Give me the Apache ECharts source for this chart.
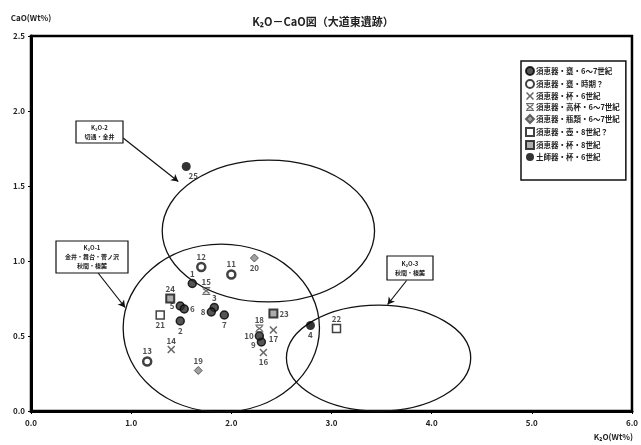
<!DOCTYPE html>
<html>
<head>
<meta charset="utf-8">
<script src="https://cdn.jsdelivr.net/npm/echarts@6/dist/echarts.min.js"></script>
<style>
  html, body { margin: 0; padding: 0; background: #fff; }
  #chart { width: 641px; height: 445px; }
</style>
</head>
<body>
<div id="chart"></div>
<script>
// 凡例の分類
const categories = [
  '須恵器・甕・6～7世紀',
  '須恵器・甕・時期？',
  '須恵器・杯・6世紀',
  '須恵器・高杯・6～7世紀',
  '須恵器・瓶類・6～7世紀',
  '須恵器・壺・8世紀？',
  '須恵器・杯・8世紀',
  '土師器・杯・6世紀'
]
// [K2O, CaO, 番号]
const jar67 = [[1.61, 0.85, 1], [1.49, 0.60, 2], [1.83, 0.69, 3], [1.49, 0.70, 5], [1.53, 0.68, 6], [1.93, 0.64, 7], [1.80, 0.66, 8], [2.30, 0.46, 9], [2.28, 0.50, 10]]
const jarUnknown = [[2.00, 0.91, 11], [1.70, 0.96, 12], [1.16, 0.33, 13]]
const cup6 = [[1.40, 0.41, 14], [2.32, 0.39, 16], [2.42, 0.54, 17]]
const stemCup = [[1.75, 0.80, 15], [2.28, 0.55, 18]]
const bottle = [[1.67, 0.27, 19], [2.23, 1.02, 20]]
const pot8 = [[1.29, 0.64, 21], [3.05, 0.55, 22]]
const cup8 = [[2.42, 0.65, 23], [1.39, 0.75, 24]]
const hajiCup = [[2.79, 0.57, 4], [1.55, 1.63, 25]]
// 産地の範囲 [中心K2O, 中心CaO, 半径K2O, 半径CaO]
const areas = [[1.90, 0.553, 0.98, 0.56], [2.37, 1.20, 1.06, 0.473], [3.47, 0.353, 0.92, 0.353]]
const xTicks = [0, 1, 2, 3, 4, 5, 6]
const yTicks = [0, 0.5, 1, 1.5, 2, 2.5]

// 番号ラベルの位置
const labelPos = { 1: 'top', 2: 'bottom', 3: 'top', 4: 'bottom', 5: 'left', 6: 'right', 7: 'bottom', 8: 'left', 9: 'left', 10: 'left', 11: 'top', 12: 'top', 13: 'top', 14: 'top', 15: 'top', 16: 'bottom', 17: 'bottom', 18: 'top', 19: 'top', 20: 'bottom', 21: 'bottom', 22: 'top', 23: 'right', 24: 'top', 25: 'bottom' }
const labelOffset = { 25: [7, 0], 9: [0, 3] }

const FONT = '"Noto Sans CJK JP", "Noto Sans", sans-serif'
const X_PATH = 'path://M1.4,0L5,3.6L8.6,0L10,1.4L6.4,5L10,8.6L8.6,10L5,6.4L1.4,10L0,8.6L3.6,5L0,1.4Z'
const X_BAR_PATH = 'path://M0,0H10V1.6H0Z M0,8.4H10V10H0Z M1.6,1.6L5,4L8.4,1.6L9.4,2.8L6.2,5L9.4,7.2L8.4,8.4L5,6L1.6,8.4L0.6,7.2L3.8,5L0.6,2.8Z'

function toItems (list) {
  return list.map(function (d) {
    return {
      value: [d[0], d[1]],
      name: String(d[2]),
      label: { position: labelPos[d[2]], offset: labelOffset[d[2]] || [0, 0] }
    }
  })
}

function pointSeries (name, list, symbol, size, itemStyle) {
  return {
    name: name,
    type: 'scatter',
    data: toItems(list),
    symbol: symbol,
    symbolSize: size,
    itemStyle: itemStyle,
    label: {
      show: true,
      formatter: '{b}',
      distance: 1,
      fontSize: 8,
      fontWeight: 'bold',
      fontFamily: FONT,
      color: '#222'
    },
    z: 5
  }
}

const myChart = echarts.init(document.getElementById('chart'))
const option = {
  animation: false,
  backgroundColor: '#fff',
  title: {
    text: 'K₂O－CaO図（大道東遺跡）',
    left: 318,
    top: 11,
    textAlign: 'center',
    textStyle: { fontSize: 11, fontWeight: 'bold', fontFamily: FONT, color: '#222' }
  },
  grid: {
    left: 31,
    right: 9,
    top: 36,
    bottom: 34,
    show: true,
    borderColor: '#000',
    borderWidth: 2.5
  },
  legend: {
    data: categories,
    orient: 'vertical',
    left: 521,
    top: 61,
    width: 107,
    itemWidth: 8,
    itemHeight: 8,
    itemGap: 3,
    padding: [5, 6, 19, 4],
    borderColor: '#111',
    borderWidth: 1.5,
    backgroundColor: '#fff',
    textStyle: { fontSize: 7.5, fontWeight: 'bold', fontFamily: FONT, color: '#222', padding: [0, 0, 0, -3] }
  },
  xAxis: {
    type: 'value',
    min: xTicks[0],
    max: xTicks[xTicks.length - 1],
    interval: 1,
    splitLine: { show: false },
    axisLine: { lineStyle: { color: '#000', width: 3 } },
    axisTick: { show: true, length: 3, lineStyle: { color: '#000', width: 1 } },
    axisLabel: {
      margin: 8,
      fontSize: 8,
      fontWeight: 'bold',
      fontFamily: FONT,
      color: '#222',
      formatter: function (v) { return v.toFixed(1) }
    }
  },
  yAxis: {
    type: 'value',
    min: yTicks[0],
    max: yTicks[yTicks.length - 1],
    interval: 0.5,
    name: 'CaO(Wt%)',
    nameLocation: 'end',
    nameGap: 14,
    nameTextStyle: { fontSize: 8, fontWeight: 'bold', fontFamily: FONT, color: '#222', align: 'center' },
    splitLine: { show: false },
    axisLine: { lineStyle: { color: '#000', width: 3 } },
    axisTick: { show: true, length: 3, lineStyle: { color: '#000', width: 1 } },
    axisLabel: {
      margin: 6,
      fontSize: 8,
      fontWeight: 'bold',
      fontFamily: FONT,
      color: '#222',
      formatter: function (v) { return v.toFixed(1) }
    }
  },
  graphic: [
    {
      type: 'text',
      right: 8,
      top: 433,
      style: { text: 'K₂O(Wt%)', font: 'bold 8px ' + FONT, fill: '#222' }
    },
    // 産地の注記
    { type: 'rect', shape: { x: 76, y: 121, width: 47, height: 22 }, style: { fill: '#fff', stroke: '#111', lineWidth: 1.2 }, z: 10 },
    { type: 'text', x: 99.5, y: 132, style: { text: 'K₂O-2\n切通・金井', font: 'bold 6px ' + FONT, fill: '#222', align: 'center', verticalAlign: 'middle', lineHeight: 9 }, z: 11 },
    { type: 'rect', shape: { x: 56, y: 241, width: 72, height: 32 }, style: { fill: '#fff', stroke: '#111', lineWidth: 1.2 }, z: 10 },
    { type: 'text', x: 92, y: 257, style: { text: 'K₂O-1\n金井・舞台・菅ノ沢\n秋間・榛麓', font: 'bold 6px ' + FONT, fill: '#222', align: 'center', verticalAlign: 'middle', lineHeight: 9 }, z: 11 },
    { type: 'rect', shape: { x: 387, y: 256, width: 46, height: 24 }, style: { fill: '#fff', stroke: '#111', lineWidth: 1.2 }, z: 10 },
    { type: 'text', x: 410, y: 268, style: { text: 'K₂O-3\n秋間・榛麓', font: 'bold 6px ' + FONT, fill: '#222', align: 'center', verticalAlign: 'middle', lineHeight: 9 }, z: 11 }
  ],
  series: [
    {
      name: 'areas',
      type: 'custom',
      silent: true,
      z: 2,
      encode: { x: 0, y: 1 },
      data: areas,
      renderItem: function (params, api) {
        const c = api.coord([api.value(0), api.value(1)])
        const s = api.size([api.value(2), api.value(3)])
        return {
          type: 'ellipse',
          shape: { cx: c[0], cy: c[1], rx: s[0], ry: s[1] },
          style: { fill: 'none', stroke: '#111', lineWidth: 1.3 }
        }
      }
    },
    {
      name: 'arrows',
      type: 'scatter',
      data: [],
      silent: true,
      markLine: {
        silent: true,
        symbol: ['none', 'arrow'],
        symbolSize: [6, 7],
        label: { show: false },
        lineStyle: { color: '#111', width: 1.2, type: 'solid' },
        data: [
          [{ coord: [0.92, 1.82] }, { coord: [1.47, 1.53] }],
          [{ coord: [0.67, 0.92] }, { coord: [0.94, 0.69] }],
          [{ coord: [3.75, 0.87] }, { coord: [3.56, 0.71] }]
        ]
      }
    },
    pointSeries(categories[0], jar67, 'circle', 8, { color: '#2a2a2a', borderColor: '#000', borderWidth: 1.5 }),
    pointSeries(categories[1], jarUnknown, 'circle', 8, { color: '#fff', borderColor: '#111', borderWidth: 2.5 }),
    pointSeries(categories[2], cup6, X_PATH, 8, { color: '#444' }),
    pointSeries(categories[3], stemCup, X_BAR_PATH, 8, { color: '#444' }),
    pointSeries(categories[4], bottle, 'diamond', 8, { color: '#888', borderColor: '#444', borderWidth: 1 }),
    pointSeries(categories[5], pot8, 'rect', 8, { color: '#fff', borderColor: '#111', borderWidth: 1.5 }),
    pointSeries(categories[6], cup8, 'rect', 8, { color: '#999', borderColor: '#111', borderWidth: 2 }),
    pointSeries(categories[7], hajiCup, 'circle', 9, { color: '#000' })
  ]
}
myChart.setOption(option)
</script>
</body>
</html>
